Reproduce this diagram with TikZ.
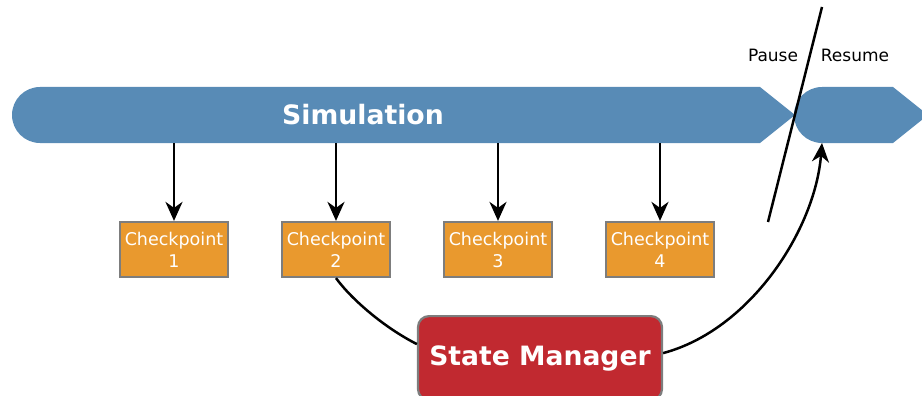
\documentclass[tikz,border=0pt]{standalone}
\usepackage{fontspec}
\setmainfont{DejaVu Sans}
\usetikzlibrary{arrows.meta,calc}
\definecolor{simblue}{RGB}{88,139,182}
\definecolor{cporange}{RGB}{233,153,46}
\definecolor{smred}{RGB}{193,41,48}
\definecolor{bordergray}{RGB}{125,125,125}
\begin{document}
\begin{tikzpicture}[x=1pt,y=-1pt,
  cp/.style={draw=bordergray, line width=2.2pt, fill=cporange, text=white,
    minimum width=108pt, minimum height=55pt, inner sep=0pt, align=center,
    font=\fontsize{17.5}{22}\selectfont},
  arr/.style={line width=2.5pt, -{Stealth[length=19pt,width=17pt,inset=6pt]}},
  conn/.style={line width=2.5pt},
  lbl/.style={font=\fontsize{17}{20}\selectfont, inner sep=0pt},
  simshape/.style={fill=simblue},
]
\useasboundingbox (0,0) rectangle (922,396);
\begin{scope}
\clip (0,0) rectangle (922,396);
% simulation bars
\fill[simshape] (40,87) -- (760,87) -- (795,115) -- (760,143) -- (40,143)
  arc[start angle=90,end angle=270,radius=28] -- cycle;
\fill[simshape] (822,87) -- (893,87) -- (928,115) -- (893,143) -- (822,143)
  arc[start angle=90,end angle=270,radius=28] -- cycle;
\node[font=\bfseries\fontsize{26.7}{32}\selectfont, text=white] (sim) at (363,115) {Simulation};

% checkpoints
\node[cp] (c1) at (174,249.5) {Checkpoint\\1};
\node[cp] (c2) at (336,249.5) {Checkpoint\\2};
\node[cp] (c3) at (498,249.5) {Checkpoint\\3};
\node[cp] (c4) at (660,249.5) {Checkpoint\\4};

\coordinate (s1) at (174,143);
\coordinate (s2) at (336,143);
\coordinate (s3) at (498,143);
\coordinate (s4) at (660,143);
\draw[arr] (s1) -- (c1.north);
\draw[arr] (s2) -- (c2.north);
\draw[arr] (s3) -- (c3.north);
\draw[arr] (s4) -- (c4.north);

% state manager
\node[draw=bordergray, line width=2.2pt, fill=smred, rounded corners=11pt,
  minimum width=244pt, minimum height=84pt, inner sep=0pt, text=white,
  font=\bfseries\fontsize{26.6}{32}\selectfont, anchor=north] (sm) at (540,315) {State Manager};
\coordinate (smin) at ($(sm.west)+(0,-14)$);
\coordinate (smout) at ($(sm.east)+(0,-5)$);
\coordinate (res) at (822,143);
\draw[conn] (c2.south) .. controls (352,300) and (385,328) .. (smin);
\draw[arr] (smout) .. controls (750,330) and (815,230) .. (res);

% pause line
\coordinate (pl1) at (768,222);
\coordinate (pl2) at (822,7);
\draw[conn] (pl1) -- (pl2);
\node[lbl] (pause) at (773,55) {Pause};
\node[lbl] (resume) at (855,55) {Resume};
\end{scope}
\end{tikzpicture}
\end{document}
